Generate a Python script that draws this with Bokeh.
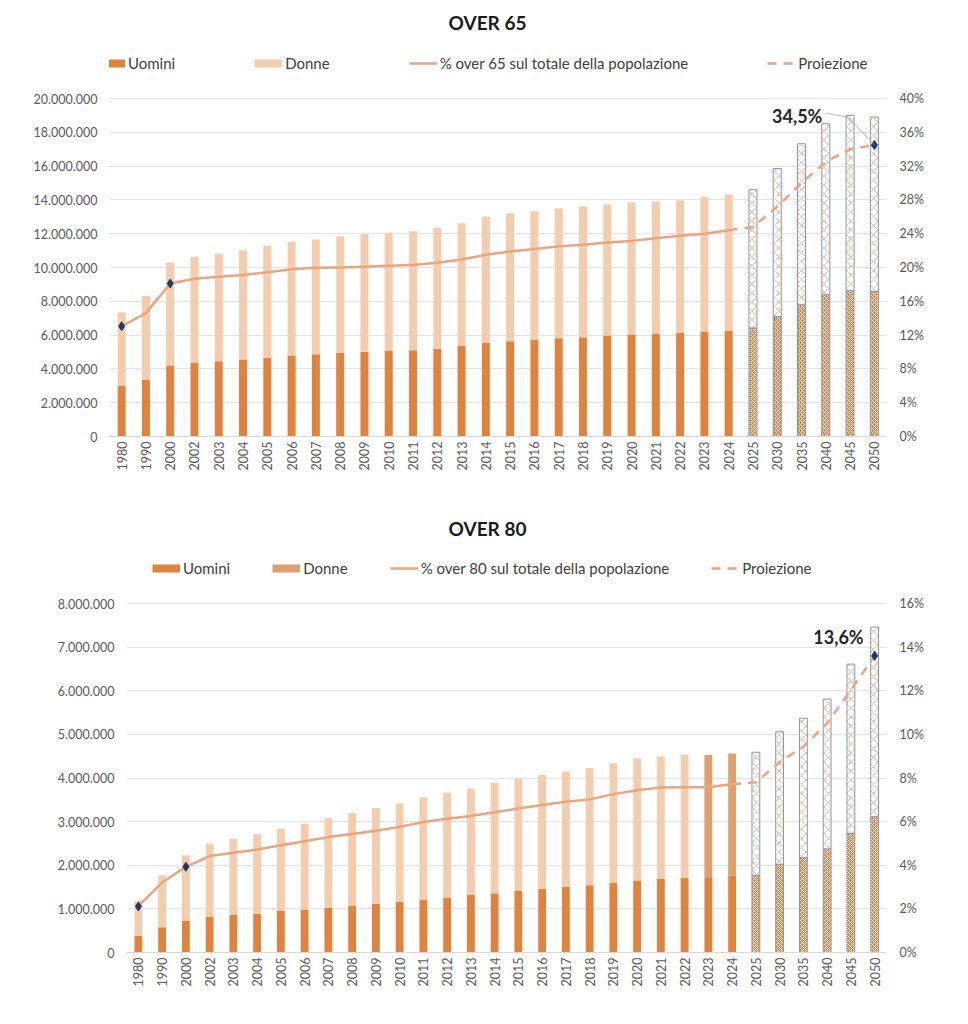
import numpy as np
from bokeh.plotting import figure
from bokeh.models import (Range1d, LinearAxis, FixedTicker, Legend, LegendItem, Label)
from bokeh.embed import file_html
from bokeh.resources import INLINE

# ---------------- data ----------------
years = ["1980", "1990", "2000", "2002", "2003", "2004", "2005", "2006", "2007",
         "2008", "2009", "2010", "2011", "2012", "2013", "2014", "2015", "2016",
         "2017", "2018", "2019", "2020", "2021", "2022", "2023", "2024",
         "2025", "2030", "2035", "2040", "2045", "2050"]
projection_from = "2025"
marker_years = ["1980", "2000", "2050"]

# OVER 65 (millions of people)
over65_uomini = [3.00, 3.37, 4.20, 4.36, 4.46, 4.56, 4.65, 4.79, 4.87, 4.95, 5.01,
                 5.09, 5.10, 5.19, 5.37, 5.54, 5.64, 5.74, 5.82, 5.88, 5.98, 6.00,
                 6.06, 6.14, 6.20, 6.27, 6.41, 7.10, 7.79, 8.38, 8.62, 8.58]
over65_donne = [4.34, 4.95, 6.10, 6.27, 6.37, 6.46, 6.63, 6.73, 6.79, 6.88, 6.96,
                6.96, 7.05, 7.16, 7.25, 7.46, 7.57, 7.59, 7.67, 7.75, 7.77, 7.85,
                7.84, 7.84, 7.98, 8.05, 8.19, 8.76, 9.53, 10.12, 10.38, 10.32]
over65_pct = [13.05, 14.6, 18.1, 18.66, 18.9, 19.1, 19.45, 19.8, 19.96, 20.0, 20.08,
              20.2, 20.3, 20.55, 20.95, 21.5, 21.9, 22.2, 22.5, 22.7, 22.96, 23.15,
              23.47, 23.75, 24.0, 24.4, 24.8, 27.2, 30.0, 32.5, 34.0, 34.5]

# OVER 80 (millions of people)
over80_uomini = [0.38, 0.58, 0.73, 0.82, 0.86, 0.89, 0.95, 0.98, 1.02, 1.07, 1.11,
                 1.16, 1.21, 1.26, 1.32, 1.36, 1.41, 1.46, 1.50, 1.54, 1.60, 1.65,
                 1.69, 1.71, 1.71, 1.76, 1.77, 2.02, 2.17, 2.37, 2.73, 3.11]
over80_donne = [0.80, 1.19, 1.50, 1.68, 1.75, 1.82, 1.89, 1.97, 2.06, 2.13, 2.20,
                2.26, 2.35, 2.40, 2.44, 2.53, 2.57, 2.61, 2.65, 2.69, 2.74, 2.80,
                2.80, 2.82, 2.82, 2.80, 2.82, 3.04, 3.20, 3.44, 3.88, 4.35]
over80_pct = [2.11, 3.21, 3.93, 4.42, 4.57, 4.72, 4.92, 5.10, 5.29, 5.43, 5.58,
              5.76, 5.98, 6.13, 6.26, 6.43, 6.60, 6.76, 6.91, 7.02, 7.26, 7.44,
              7.57, 7.58, 7.58, 7.72, 7.80, 8.72, 9.44, 10.5, 12.03, 13.6]
over80_dark_donne_years = ["2023", "2024"]

# ---------------- styles ----------------
FONT = "Lato"
UOM = "#E0833F"
DON = "#F3CDAE"
DON_DARK = "#DDA06F"
LINE = "#ECA47F"
MARK = "#1F3864"
OUTL = "#8497B0"
GRID = "#E3E3E3"
TXT = "#595959"
FIG_W = 960


def make_chart(title, uomini, donne, pct, ymax, ystep, pmax, pstep, line_label,
               frame_w, plot_h, head_h, title_y, border_left, border_bottom,
               legend_x, legend_spacing, title_x, label_dx, label_dy,
               dark_years=(), leader=False):
    n = len(years)
    xs = np.arange(n)
    u = np.array(uomini) * 1e6
    d = np.array(donne) * 1e6
    tot = u + d
    ip = years.index(projection_from)
    hist = xs < ip
    proj = ~hist
    dark = np.array([y in dark_years for y in years])

    frame_h = plot_h + head_h          # frame also holds title and legend
    k = frame_h / plot_h
    p = figure(frame_width=frame_w, frame_height=frame_h,
               min_border_left=border_left, min_border_right=FIG_W - border_left - frame_w,
               min_border_top=0, min_border_bottom=border_bottom,
               x_range=Range1d(-0.5, n - 0.5), y_range=Range1d(0, ymax * k),
               output_backend="svg", toolbar_location=None, title=None)
    p.extra_y_ranges = {"pct": Range1d(0, pmax * k)}
    p.outline_line_color = None
    p.background_fill_color = "white"
    p.border_fill_color = "white"

    # axes
    yt = list(range(0, int(ymax) + 1, int(ystep)))
    p.yaxis.ticker = FixedTicker(ticks=yt)
    p.yaxis.major_label_overrides = {t: f"{t:,}".replace(",", ".") for t in yt}
    p.xaxis.ticker = FixedTicker(ticks=list(xs))
    p.xaxis.major_label_overrides = {int(i): y for i, y in zip(xs, years)}
    p.xaxis.major_label_orientation = np.pi / 2
    pt = list(range(0, pmax + 1, pstep))
    ra = LinearAxis(y_range_name="pct", ticker=FixedTicker(ticks=pt),
                    major_label_overrides={t: f"{t}%" for t in pt})
    p.add_layout(ra, "right")
    for ax in [p.xaxis[0], p.yaxis[0], ra]:
        ax.major_label_text_font = FONT
        ax.major_label_text_font_size = "12.5px"
        ax.major_label_text_color = TXT
        ax.major_tick_line_color = None
        ax.minor_tick_line_color = None
        ax.major_tick_out = 0
        ax.minor_tick_out = 0
        ax.axis_line_color = None
    p.xaxis.axis_line_color = "#D9D9D9"
    p.xaxis.major_label_standoff = 5
    p.yaxis[0].major_label_standoff = 12
    ra.major_label_standoff = 13
    p.xgrid.grid_line_color = None
    p.ygrid.grid_line_color = GRID
    p.ygrid.grid_line_width = 1

    W = 0.33
    # historical bars
    p.vbar(x=xs[hist], bottom=0, top=u[hist], width=W, fill_color=UOM, line_color=None)
    normal = hist & ~dark
    p.vbar(x=xs[normal], bottom=u[normal], top=tot[normal], width=W,
           fill_color=DON, line_color=None)
    if dark.any():
        p.vbar(x=xs[dark], bottom=u[dark], top=tot[dark], width=W,
               fill_color=DON_DARK, line_color=None)
    # projection bars
    p.vbar(x=xs[proj], bottom=u[proj], top=tot[proj], width=W, fill_color="white",
           hatch_pattern="x", hatch_color="#F4BE98", hatch_scale=9, hatch_weight=0.9,
           line_color=OUTL, line_width=1)
    p.vbar(x=xs[proj], bottom=0, top=u[proj], width=W, fill_color=UOM,
           hatch_pattern="x", hatch_color="white", hatch_scale=4, hatch_weight=1,
           line_color=OUTL, line_width=1)

    # share line
    pc = np.array(pct)
    r_l = p.line(xs[:ip], pc[:ip], y_range_name="pct", line_color=LINE,
                 line_width=2.5, line_join="round")
    r_p = p.line(xs[ip - 1:], pc[ip - 1:], y_range_name="pct", line_color=LINE,
                 line_width=2.5, line_dash="9 7")
    mi = [years.index(y) for y in marker_years]
    p.scatter(xs[mi], pc[mi], y_range_name="pct", marker="diamond", size=9,
              fill_color=MARK, line_color=MARK)

    # value label
    xl, yl = xs[-1], pc[-1]
    if leader:
        p.line([xl - 1.98, xl - 1.07, xl], [yl + 3.75, yl + 3.28, yl], y_range_name="pct",
               line_color="#A6A6A6", line_width=0.8)
    p.add_layout(Label(x=xl, y=yl, y_range_name="pct", x_offset=label_dx, y_offset=label_dy,
                       text=f"{yl:.1f}%".replace(".", ","), text_font=FONT,
                       text_font_style="bold", text_font_size="18px", text_color="#262626",
                       text_align="right", text_baseline="middle"))

    # title (inside the extended frame)
    p.add_layout(Label(x=title_x, y=frame_h - title_y, x_units="screen",
                       y_units="screen", text=title, text_font=FONT, text_font_style="bold",
                       text_font_size="19px", text_color="#1A1A1A",
                       text_align="center", text_baseline="middle"))

    # legend: swatches drawn by legend-only thick lines (their data are NaN, so
    # nothing appears in the plot area)
    nan2 = [np.nan, np.nan]
    sw_u = p.line(x=[0, 1], y=nan2, line_color=UOM, line_width=8, line_cap="butt")
    sw_d = p.line(x=[0, 1], y=nan2, line_color=DON_DARK if dark.any() else DON,
                  line_width=8, line_cap="butt")
    items = [LegendItem(label="Uomini", renderers=[sw_u]),
             LegendItem(label="Donne", renderers=[sw_d]),
             LegendItem(label=line_label, renderers=[r_l]),
             LegendItem(label="Proiezione", renderers=[r_p])]
    lg = Legend(items=items, orientation="horizontal", location=(legend_x, plot_h + 26),
                glyph_width=28, glyph_height=10, label_height=10, label_standoff=3,
                spacing=legend_spacing, padding=0, margin=0,
                border_line_color=None, background_fill_alpha=0,
                label_text_font=FONT, label_text_font_size="15px",
                label_text_color="#404040")
    p.add_layout(lg, "center")
    return p


# top chart: frame x 109..886, data area y 98..436, title at y 22
p1 = make_chart("OVER 65", over65_uomini, over65_donne, over65_pct,
                20_000_000, 2_000_000, 40, 4, "% over 65 sul totale della popolazione",
                frame_w=777, plot_h=338, head_h=98, title_y=22, border_left=109,
                border_bottom=60, legend_x=-12, legend_spacing=79, title_x=378,
                label_dx=-52, label_dy=29, leader=True)
# bottom chart: frame x 126..886, data area y 603..952, title at y 528
p2 = make_chart("OVER 80", over80_uomini, over80_donne, over80_pct,
                8_000_000, 1_000_000, 16, 2, "% over 80 sul totale della popolazione",
                frame_w=760, plot_h=349, head_h=107, title_y=32, border_left=126,
                border_bottom=50, legend_x=26, legend_spacing=42, title_x=361,
                label_dx=-11, label_dy=19, dark_years=over80_dark_donne_years)

open("out.html", "w").write(file_html([p1, p2], INLINE))
